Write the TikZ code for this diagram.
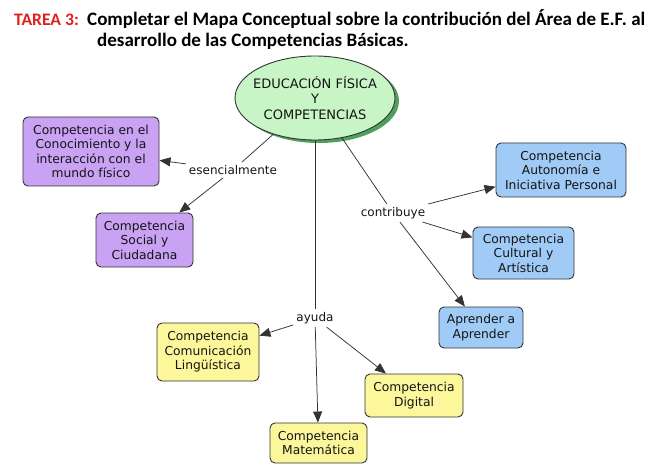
\documentclass[tikz,border=0pt]{standalone}
\usepackage{fontspec}
\setmainfont{DejaVu Sans}
\newfontfamily\titlefont{Carlito}
\usetikzlibrary{arrows.meta,shapes.geometric}
\definecolor{purplefill}{HTML}{C9A2F4}
\definecolor{bluefill}{HTML}{9FCBF6}
\definecolor{yellowfill}{HTML}{FBF79A}
\definecolor{greenfill}{HTML}{C8F5C6}
\definecolor{greenshadow}{HTML}{4F9F5E}
\definecolor{edgegray}{HTML}{333333}
\definecolor{titlered}{HTML}{E0201F}
\tikzset{
  concept/.style={draw=edgegray, line width=0.9pt, rounded corners=5pt, align=center,
    font=\fontsize{12.3}{14.5}\selectfont, inner sep=0pt, text=black!92},
  purplebox/.style={concept, fill=purplefill},
  bluebox/.style={concept, fill=bluefill},
  yellowbox/.style={concept, fill=yellowfill},
  linklabel/.style={font=\fontsize{12}{14}\selectfont, inner sep=3pt, text=black!92},
  link/.style={draw=edgegray, line width=0.75pt},
  arrowlink/.style={link, -{Triangle[length=11pt,width=9pt]}},
  titletext/.style={anchor=base west, inner sep=0pt, font=\titlefont\bfseries\fontsize{19}{22}\selectfont}
}
\begin{document}
\begin{tikzpicture}[x=1pt,y=-1pt]
\useasboundingbox (0,0) rectangle (660,470);
% title
\node[titletext, text=titlered, font=\titlefont\bfseries\fontsize{17.6}{22}\selectfont] (tarea) at (14,26) {TAREA 3:};
\node[titletext] (title1) at (87,26) {Completar el Mapa Conceptual sobre la contribución del Área de E.F. al};
\node[titletext] (title2) at (97,47) {desarrollo de las Competencias Básicas.};
% central ellipse
\fill[greenshadow] (319,101) ellipse [x radius=80, y radius=42];
\node[ellipse, draw=edgegray, line width=0.9pt, fill=greenfill, minimum width=160pt, minimum height=84pt,
  inner xsep=-12pt, inner ysep=0pt,
  align=center, font=\fontsize{13}{15.5}\selectfont, text=black!92] (edu) at (315,98) {EDUCACIÓN FÍSICA\\Y\\COMPETENCIAS};
% boxes
\node[purplebox, minimum width=136pt, minimum height=69pt] (p1) at (91,151.5) {Competencia en el\\Conocimiento y la\\interacción con el\\mundo físico};
\node[purplebox, minimum width=97pt, minimum height=54pt] (p2) at (144.5,240) {Competencia\\Social y\\Ciudadana};
\node[bluebox, minimum width=130pt, minimum height=54pt] (b1) at (561,170) {Competencia\\Autonomía e\\Iniciativa Personal};
\node[bluebox, minimum width=101pt, minimum height=52pt] (b2) at (523.5,253) {Competencia\\Cultural y\\Artística};
\node[bluebox, minimum width=84pt, minimum height=41pt] (b3) at (481,327.5) {Aprender a\\Aprender};
\node[yellowbox, minimum width=102pt, minimum height=58pt] (y1) at (208,352) {Competencia\\Comunicación\\Lingüística};
\node[yellowbox, minimum width=97pt, minimum height=40pt] (y2) at (318.5,443) {Competencia\\Matemática};
\node[yellowbox, minimum width=98pt, minimum height=43pt] (y3) at (414,395.5) {Competencia\\Digital};
% link labels
\node[linklabel] (esen) at (233,170) {esencialmente};
\node[linklabel] (contrib) at (393,213) {contribuye};
\node[linklabel] (ayuda) at (315,318) {ayuda};
% connectors
\draw[link] (edu.221) -- (esen);
\draw[arrowlink] (esen) -- (p1);
\draw[arrowlink] (esen) -- (p2);
\draw[link] (edu.-56) -- (contrib);
\draw[arrowlink] (contrib) -- (b1);
\draw[arrowlink] (contrib) -- (b2);
\draw[arrowlink] (contrib) -- (b3);
\draw[link] (edu.south) -- (ayuda);
\draw[arrowlink] (ayuda) -- (y1);
\draw[arrowlink] (ayuda) -- (y2);
\draw[arrowlink] (ayuda) -- (y3);
\end{tikzpicture}
\end{document}
